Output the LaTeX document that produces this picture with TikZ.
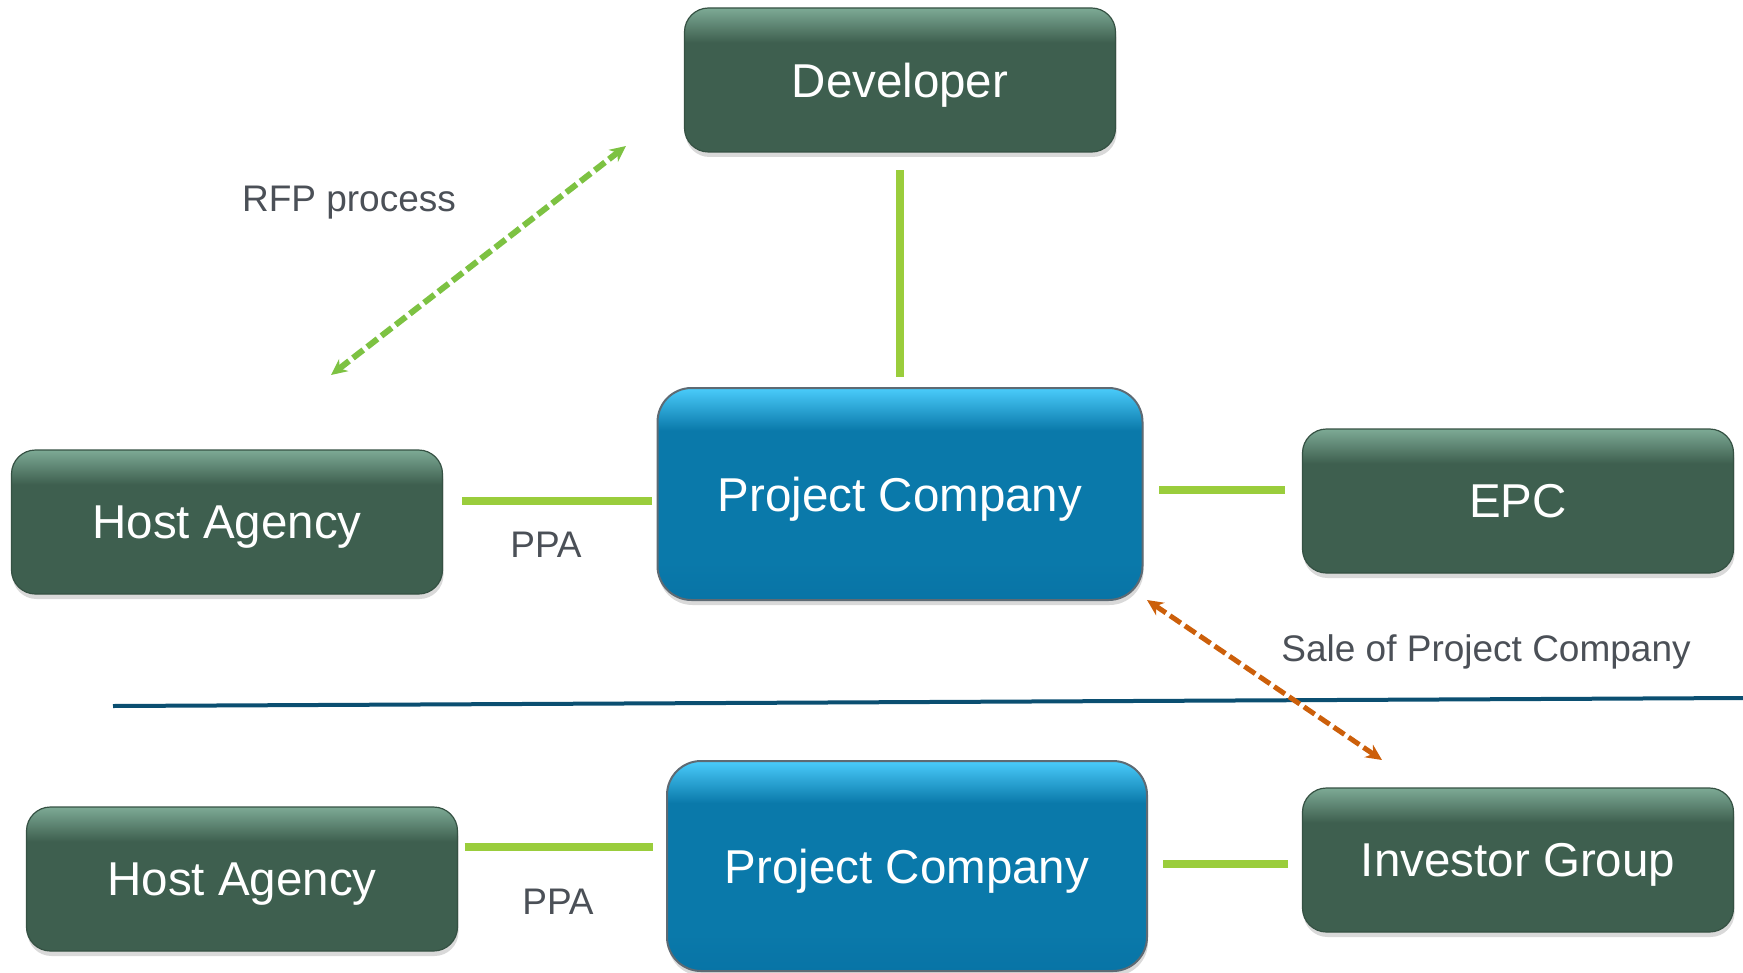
\documentclass[tikz,border=0pt]{standalone}
\usepackage{fontspec}
\setmainfont{Liberation Sans}
\usetikzlibrary{arrows.meta,positioning,shadows}

\definecolor{boxgreen}{HTML}{3E5F4F}
\definecolor{boxgreenhi}{HTML}{7DAA95}
\definecolor{boxblue}{HTML}{0A79AA}
\definecolor{boxbluehi}{HTML}{4ACCFB}
\definecolor{boxbluelo}{HTML}{0874A6}
\definecolor{boxedge}{HTML}{5E6A73}
\definecolor{linkgreen}{HTML}{9ACD3C}
\definecolor{rfpgreen}{HTML}{7DC242}
\definecolor{saleorange}{HTML}{CC5F0A}
\definecolor{divider}{HTML}{0B4F71}
\definecolor{labelgray}{HTML}{4B5057}

\pgfdeclareverticalshading{greenbtn}{100bp}{color(0bp)=(boxgreen); color(25bp)=(boxgreen); color(63bp)=(boxgreen); color(75bp)=(boxgreenhi); color(100bp)=(boxgreenhi)}
\pgfdeclareverticalshading{bluebtn}{100bp}{color(0bp)=(boxbluelo); color(25bp)=(boxbluelo); color(34bp)=(boxblue); color(65bp)=(boxblue); color(75bp)=(boxbluehi); color(100bp)=(boxbluehi)}

\begin{document}
\begin{tikzpicture}[x=0.5pt,y=-0.5pt,
    party/.style={rectangle,rounded corners=12pt,shade,shading=greenbtn,draw=boxgreen!85!black,line width=0.6pt,
        minimum width=215.5pt,minimum height=72pt,text=white,text depth=0pt,font=\fontsize{23.75}{28}\selectfont,
        drop shadow={shadow xshift=0.5pt,shadow yshift=-2.5pt,opacity=0.3}},
    company/.style={party,rounded corners=17pt,shading=bluebtn,draw=boxedge,line width=1pt,
        minimum width=242.5pt,minimum height=106pt},
    link/.style={linkgreen,line width=4pt},
    deal/.style={line width=3pt,dash pattern=on 6.5pt off 2.5pt,
        {Stealth[length=8pt,width=7.5pt]}-{Stealth[length=8pt,width=7.5pt]}},
    note/.style={text=labelgray,text depth=0pt,font=\fontsize{18.5}{22}\selectfont}]
    \useasboundingbox (0,0) rectangle (1743,973);

    % Before the sale
    \node[party] (dev) at (900,80) {Developer};
    \node[company] (projco) at (900,494) {Project Company};
    \node[party] (host) at (227,522) {Host Agency};
    \node[party] (epc) at (1518,501) {EPC};

    \coordinate (ppaline) at (0,501);
    \coordinate (epcline) at (0,490);
    \draw[link,shorten <=8.75pt,shorten >=5pt] (dev) -- (projco);
    \draw[link,shorten <=9.5pt,shorten >=2.5pt] (host.east |- ppaline) -- (projco.west |- ppaline);
    \draw[link,shorten <=7.75pt,shorten >=8.25pt] (projco.east |- epcline) -- (epc.west |- epcline);
    \node[note] (ppa) at (546,545) {PPA};

    % RFP process
    \coordinate (rfpstart) at (331,375);
    \coordinate (rfpend) at (626,146);
    \draw[deal,rfpgreen] (rfpstart) -- (rfpend);
    \node[note] (rfp) at (349,199) {RFP process};

    % Divider
    \coordinate (divleft) at (113,706);
    \coordinate (divright) at (1743,698);
    \draw[divider,line width=2pt] (divleft) -- (divright);

    % Sale of the project company
    \coordinate (salestart) at (1147,600);
    \coordinate (saleend) at (1382,760);
    \draw[deal,saleorange,line width=2.5pt] (salestart) -- (saleend);
    \node[note] (sale) at (1486,648) {Sale of Project Company};

    % After the sale
    \node[company,minimum width=240pt,minimum height=105pt] (projcob) at (907,866) {Project Company};
    \node[party] (hostb) at (242,879) {Host Agency};
    \node[party] (investor) at (1518,860) {Investor Group};

    \coordinate (ppalineb) at (0,847);
    \coordinate (invline) at (0,864);
    \draw[link,shorten <=3.25pt,shorten >=6.5pt] (hostb.east |- ppalineb) -- (projcob.west |- ppalineb);
    \draw[link,shorten <=7.5pt,shorten >=6.75pt] (projcob.east |- invline) -- (investor.west |- invline);
    \node[note] (ppab) at (558,902) {PPA};
\end{tikzpicture}
\end{document}
